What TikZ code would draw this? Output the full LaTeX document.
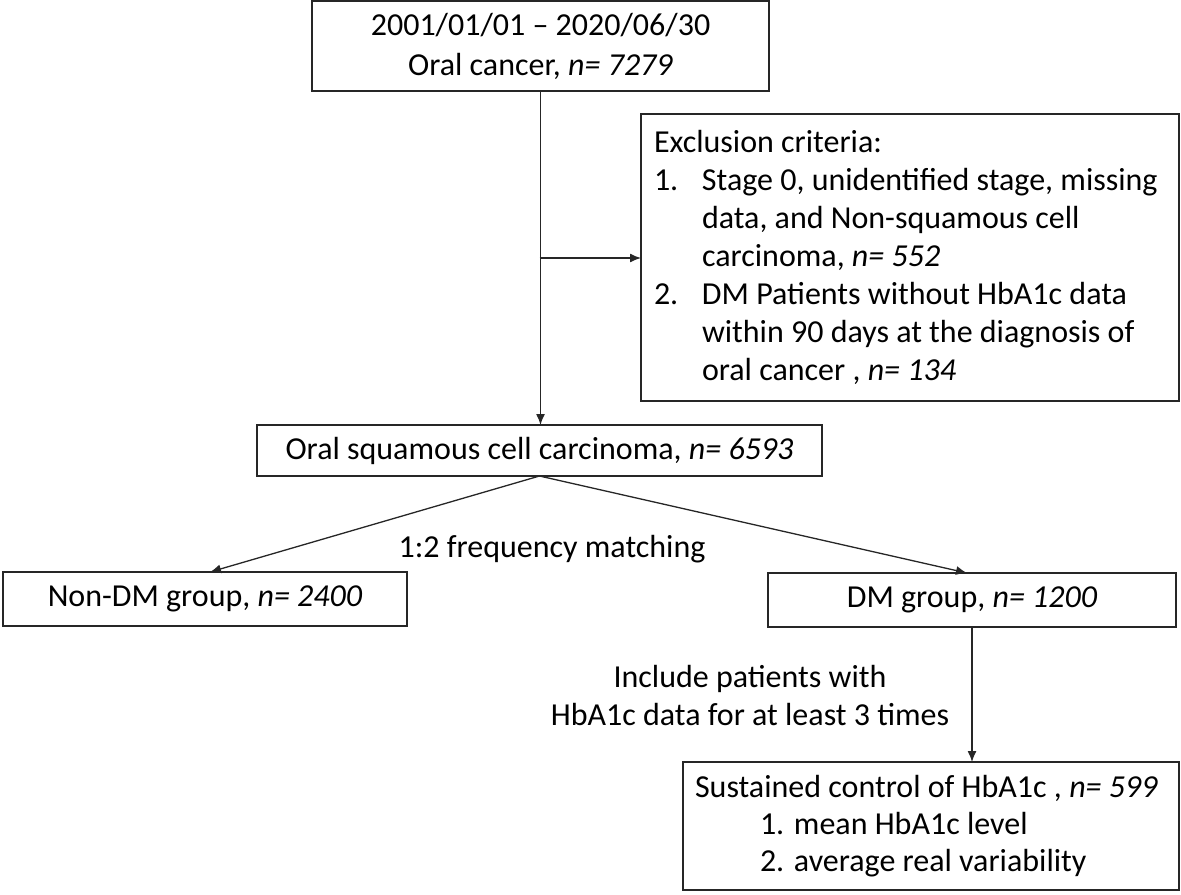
\documentclass[tikz,border=0pt]{standalone}
\usepackage{fontspec}
\setmainfont{Carlito}
\usetikzlibrary{arrows.meta}
\newlength\pxu
\setlength\pxu{0.5pt}
\begin{document}
\begin{tikzpicture}[x=0.5pt,y=-0.5pt,
  box/.style={draw=black!85, line width=1pt, inner sep=0pt, outer sep=0pt,
    font=\fontsize{16pt}{19pt}\selectfont},
  lbl/.style={inner sep=0pt, font=\fontsize{16pt}{19pt}\selectfont},
  conn/.style={draw=black!85, line width=0.65pt, -{Latex[length=5.5pt,width=4.5pt]}}]
\useasboundingbox (0,0) rectangle (1181,894);
\node[box, minimum width=457\pxu, minimum height=90\pxu, align=center,
  font=\fontsize{16pt}{20pt}\selectfont] (top) at (540.5,46)
  {2001/01/01 -- 2020/06/30\\Oral cancer, \textit{n= 7279}};
\node[box, minimum width=538\pxu, minimum height=287\pxu, inner xsep=13\pxu,
  text width=512\pxu, align=flush left] (excl) at (910,257.5)
  {\mbox{Exclusion criteria:}\\
   \mbox{\makebox[48\pxu][l]{1.}Stage 0, unidentified stage, missing}\\
   \mbox{\hspace*{48\pxu}data, and Non-squamous cell}\\
   \mbox{\hspace*{48\pxu}carcinoma, \textit{n= 552}}\\
   \mbox{\makebox[48\pxu][l]{2.}DM Patients without HbA1c data}\\
   \mbox{\hspace*{48\pxu}within 90 days at the diagnosis of}\\
   \mbox{\hspace*{48\pxu}oral cancer , \textit{n= 134}}};
\node[box, minimum width=565\pxu, minimum height=51\pxu] (osq) at (539.5,450.5)
  {Oral squamous cell carcinoma, \textit{n= 6593}};
\node[box, minimum width=404\pxu, minimum height=54\pxu] (nondm) at (205,599)
  {Non-DM group, \textit{n= 2400}};
\node[box, minimum width=408\pxu, minimum height=54\pxu] (dm) at (972,600)
  {DM group, \textit{n= 1200}};
\node[box, minimum width=496\pxu, minimum height=128\pxu, inner xsep=12\pxu,
  text width=472\pxu, align=flush left,
  font=\fontsize{16pt}{18.5pt}\selectfont] (sus) at (931,826)
  {\mbox{Sustained control of HbA1c , \textit{n= 599}}\\
   \mbox{\hspace*{65\pxu}1. mean HbA1c level}\\
   \mbox{\hspace*{65\pxu}2. average real variability}};
\node[lbl, anchor=base] (match) at (552,557) {1:2 frequency matching};
\node[lbl, align=center] (incl) at (750,695)
  {Include patients with\\HbA1c data for at least 3 times};
\coordinate (br) at (539.5,258);
\draw[conn] (top.south) -- (top.south |- osq.north);
\draw[conn] (br) -- (excl.west |- br);
\draw[conn] (osq.south) -- ([xshift=2.5pt]nondm.north);
\draw[conn] (osq.south) -- ([xshift=-2.5pt]dm.north);
\draw[conn] (dm.south) -- (dm.south |- sus.north);
\end{tikzpicture}
\end{document}
